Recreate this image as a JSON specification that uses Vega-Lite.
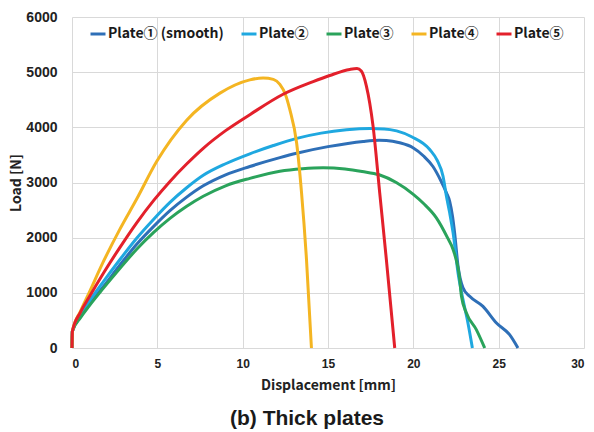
{
  "$schema": "https://vega.github.io/schema/vega-lite/v6.json",
  "width": 512,
  "height": 331,
  "autosize": "none",
  "padding": {"left": 72, "top": 17, "right": 10, "bottom": 84},
  "background": "white",
  "title": {
    "text": "(b) Thick plates",
    "orient": "bottom",
    "anchor": "middle",
    "dx": -21,
    "offset": 16,
    "font": "Liberation Sans",
    "fontSize": 21,
    "fontWeight": "bold",
    "color": "#1a1a1a"
  },
  "config": {
    "view": {"stroke": null},
    "axis": {
      "grid": true,
      "gridColor": "#d9d9d9",
      "gridWidth": 1,
      "domain": false,
      "ticks": false,
      "labelFont": "Liberation Sans",
      "labelFontWeight": "bold",
      "labelColor": "#222222",
      "titleFont": "Noto Sans CJK JP",
      "titleFontWeight": "bold",
      "titleColor": "#222222",
      "titleFontSize": 14
    }
  },
  "data": {
    "values": [
      {"plate": "Plate① (smooth)", "x": 0, "y": 0},
      {"plate": "Plate① (smooth)", "x": 0.02, "y": 300},
      {"plate": "Plate① (smooth)", "x": 0.5, "y": 570},
      {"plate": "Plate① (smooth)", "x": 1, "y": 790},
      {"plate": "Plate① (smooth)", "x": 1.83, "y": 1110},
      {"plate": "Plate① (smooth)", "x": 2.8, "y": 1500},
      {"plate": "Plate① (smooth)", "x": 3.79, "y": 1880},
      {"plate": "Plate① (smooth)", "x": 4.8, "y": 2210},
      {"plate": "Plate① (smooth)", "x": 5.74, "y": 2490},
      {"plate": "Plate① (smooth)", "x": 6.7, "y": 2730},
      {"plate": "Plate① (smooth)", "x": 7.69, "y": 2940},
      {"plate": "Plate① (smooth)", "x": 9, "y": 3140},
      {"plate": "Plate① (smooth)", "x": 10.42, "y": 3290},
      {"plate": "Plate① (smooth)", "x": 12.18, "y": 3450},
      {"plate": "Plate① (smooth)", "x": 13.16, "y": 3530},
      {"plate": "Plate① (smooth)", "x": 15, "y": 3650},
      {"plate": "Plate① (smooth)", "x": 17.06, "y": 3745},
      {"plate": "Plate① (smooth)", "x": 18, "y": 3765},
      {"plate": "Plate① (smooth)", "x": 18.42, "y": 3762},
      {"plate": "Plate① (smooth)", "x": 19.2, "y": 3720},
      {"plate": "Plate① (smooth)", "x": 19.98, "y": 3630},
      {"plate": "Plate① (smooth)", "x": 20.6, "y": 3480},
      {"plate": "Plate① (smooth)", "x": 21.15, "y": 3290},
      {"plate": "Plate① (smooth)", "x": 21.6, "y": 3040},
      {"plate": "Plate① (smooth)", "x": 21.94, "y": 2813},
      {"plate": "Plate① (smooth)", "x": 22.13, "y": 2660},
      {"plate": "Plate① (smooth)", "x": 22.3, "y": 2380},
      {"plate": "Plate① (smooth)", "x": 22.42, "y": 2087},
      {"plate": "Plate① (smooth)", "x": 22.62, "y": 1481},
      {"plate": "Plate① (smooth)", "x": 22.91, "y": 1089},
      {"plate": "Plate① (smooth)", "x": 23.3, "y": 937},
      {"plate": "Plate① (smooth)", "x": 24.08, "y": 755},
      {"plate": "Plate① (smooth)", "x": 24.87, "y": 454},
      {"plate": "Plate① (smooth)", "x": 25.64, "y": 241},
      {"plate": "Plate① (smooth)", "x": 26.13, "y": 0},

      {"plate": "Plate②", "x": 0, "y": 0},
      {"plate": "Plate②", "x": 0.02, "y": 300},
      {"plate": "Plate②", "x": 0.5, "y": 600},
      {"plate": "Plate②", "x": 1, "y": 840},
      {"plate": "Plate②", "x": 1.83, "y": 1200},
      {"plate": "Plate②", "x": 2.8, "y": 1600},
      {"plate": "Plate②", "x": 3.79, "y": 1990},
      {"plate": "Plate②", "x": 4.8, "y": 2340},
      {"plate": "Plate②", "x": 5.74, "y": 2640},
      {"plate": "Plate②", "x": 6.7, "y": 2900},
      {"plate": "Plate②", "x": 7.69, "y": 3130},
      {"plate": "Plate②", "x": 9, "y": 3340},
      {"plate": "Plate②", "x": 10.42, "y": 3520},
      {"plate": "Plate②", "x": 11.8, "y": 3670},
      {"plate": "Plate②", "x": 13.17, "y": 3800},
      {"plate": "Plate②", "x": 14.6, "y": 3895},
      {"plate": "Plate②", "x": 16.08, "y": 3955},
      {"plate": "Plate②", "x": 17.45, "y": 3978},
      {"plate": "Plate②", "x": 18.3, "y": 3972},
      {"plate": "Plate②", "x": 19.02, "y": 3935},
      {"plate": "Plate②", "x": 19.9, "y": 3830},
      {"plate": "Plate②", "x": 20.96, "y": 3599},
      {"plate": "Plate②", "x": 21.4, "y": 3400},
      {"plate": "Plate②", "x": 21.74, "y": 3114},
      {"plate": "Plate②", "x": 21.94, "y": 2750},
      {"plate": "Plate②", "x": 22.13, "y": 2450},
      {"plate": "Plate②", "x": 22.33, "y": 2087},
      {"plate": "Plate②", "x": 22.62, "y": 1361},
      {"plate": "Plate②", "x": 22.91, "y": 877},
      {"plate": "Plate②", "x": 23.2, "y": 454},
      {"plate": "Plate②", "x": 23.46, "y": 0},

      {"plate": "Plate③", "x": 0, "y": 0},
      {"plate": "Plate③", "x": 0.02, "y": 300},
      {"plate": "Plate③", "x": 0.5, "y": 550},
      {"plate": "Plate③", "x": 1, "y": 760},
      {"plate": "Plate③", "x": 1.83, "y": 1080},
      {"plate": "Plate③", "x": 2.8, "y": 1440},
      {"plate": "Plate③", "x": 3.79, "y": 1790},
      {"plate": "Plate③", "x": 4.8, "y": 2100},
      {"plate": "Plate③", "x": 5.74, "y": 2350},
      {"plate": "Plate③", "x": 6.7, "y": 2565},
      {"plate": "Plate③", "x": 7.69, "y": 2750},
      {"plate": "Plate③", "x": 9, "y": 2940},
      {"plate": "Plate③", "x": 10.42, "y": 3075},
      {"plate": "Plate③", "x": 12.18, "y": 3205},
      {"plate": "Plate③", "x": 13.5, "y": 3250},
      {"plate": "Plate③", "x": 14.71, "y": 3267},
      {"plate": "Plate③", "x": 16, "y": 3245},
      {"plate": "Plate③", "x": 17, "y": 3200},
      {"plate": "Plate③", "x": 18, "y": 3140},
      {"plate": "Plate③", "x": 19, "y": 3000},
      {"plate": "Plate③", "x": 19.98, "y": 2790},
      {"plate": "Plate③", "x": 20.6, "y": 2620},
      {"plate": "Plate③", "x": 21.35, "y": 2360},
      {"plate": "Plate③", "x": 22, "y": 2000},
      {"plate": "Plate③", "x": 22.33, "y": 1784},
      {"plate": "Plate③", "x": 22.72, "y": 1240},
      {"plate": "Plate③", "x": 22.82, "y": 937},
      {"plate": "Plate③", "x": 23.11, "y": 635},
      {"plate": "Plate③", "x": 23.69, "y": 332},
      {"plate": "Plate③", "x": 24.18, "y": 0},

      {"plate": "Plate④", "x": 0, "y": 0},
      {"plate": "Plate④", "x": 0.02, "y": 300},
      {"plate": "Plate④", "x": 0.5, "y": 670},
      {"plate": "Plate④", "x": 1, "y": 1000},
      {"plate": "Plate④", "x": 1.83, "y": 1560},
      {"plate": "Plate④", "x": 2.8, "y": 2150},
      {"plate": "Plate④", "x": 3.79, "y": 2700},
      {"plate": "Plate④", "x": 4.96, "y": 3380},
      {"plate": "Plate④", "x": 6.72, "y": 4130},
      {"plate": "Plate④", "x": 8.67, "y": 4620},
      {"plate": "Plate④", "x": 10.42, "y": 4860},
      {"plate": "Plate④", "x": 11.2, "y": 4895},
      {"plate": "Plate④", "x": 11.8, "y": 4870},
      {"plate": "Plate④", "x": 12.18, "y": 4779},
      {"plate": "Plate④", "x": 12.5, "y": 4600},
      {"plate": "Plate④", "x": 12.76, "y": 4325},
      {"plate": "Plate④", "x": 13.16, "y": 3721},
      {"plate": "Plate④", "x": 13.45, "y": 2813},
      {"plate": "Plate④", "x": 13.74, "y": 1603},
      {"plate": "Plate④", "x": 14.03, "y": 0},

      {"plate": "Plate⑤", "x": 0, "y": 0},
      {"plate": "Plate⑤", "x": 0.02, "y": 300},
      {"plate": "Plate⑤", "x": 0.5, "y": 650},
      {"plate": "Plate⑤", "x": 1, "y": 920},
      {"plate": "Plate⑤", "x": 1.83, "y": 1350},
      {"plate": "Plate⑤", "x": 2.8, "y": 1820},
      {"plate": "Plate⑤", "x": 3.79, "y": 2270},
      {"plate": "Plate⑤", "x": 4.8, "y": 2680},
      {"plate": "Plate⑤", "x": 5.74, "y": 3020},
      {"plate": "Plate⑤", "x": 6.7, "y": 3330},
      {"plate": "Plate⑤", "x": 7.69, "y": 3620},
      {"plate": "Plate⑤", "x": 9, "y": 3940},
      {"plate": "Plate⑤", "x": 10.42, "y": 4230},
      {"plate": "Plate⑤", "x": 12.37, "y": 4600},
      {"plate": "Plate⑤", "x": 14.13, "y": 4830},
      {"plate": "Plate⑤", "x": 15.1, "y": 4940},
      {"plate": "Plate⑤", "x": 16.28, "y": 5050},
      {"plate": "Plate⑤", "x": 16.7, "y": 5065},
      {"plate": "Plate⑤", "x": 16.95, "y": 5020},
      {"plate": "Plate⑤", "x": 17.25, "y": 4748},
      {"plate": "Plate⑤", "x": 17.64, "y": 4022},
      {"plate": "Plate⑤", "x": 18.03, "y": 2813},
      {"plate": "Plate⑤", "x": 18.42, "y": 1603},
      {"plate": "Plate⑤", "x": 18.91, "y": 0}
    ]
  },
  "mark": {"type": "line", "strokeWidth": 3, "interpolate": "monotone"},
  "encoding": {
    "x": {
      "field": "x",
      "type": "quantitative",
      "scale": {"domain": [0, 30], "nice": false},
      "axis": {
        "values": [0, 5, 10, 15, 20, 25, 30],
        "title": "Displacement [mm]",
        "labelFontSize": 12,
        "labelPadding": 10,
        "titlePadding": 9
      }
    },
    "y": {
      "field": "y",
      "type": "quantitative",
      "scale": {"domain": [0, 6000], "nice": false},
      "axis": {
        "values": [0, 1000, 2000, 3000, 4000, 5000, 6000],
        "format": "d",
        "title": "Load [N]",
        "labelFontSize": 14,
        "labelPadding": 15,
        "titlePadding": 2
      }
    },
    "color": {
      "field": "plate",
      "type": "nominal",
      "scale": {
        "domain": ["Plate① (smooth)", "Plate②", "Plate③", "Plate④", "Plate⑤"],
        "range": ["#2E6FB7", "#1FA8E0", "#2AA35B", "#F4B522", "#E3202B"]
      },
      "legend": {
        "title": null,
        "orient": "none",
        "legendX": 17,
        "legendY": 8,
        "direction": "horizontal",
        "symbolType": "stroke",
        "symbolSize": 225,
        "symbolStrokeWidth": 3,
        "labelOffset": 1,
        "columnPadding": 11,
        "labelFont": "Noto Sans CJK JP",
        "labelFontWeight": "bold",
        "labelFontSize": 14,
        "labelColor": "#1a1a1a",
        "labelLimit": 300,
        "padding": 0
      }
    }
  }
}
